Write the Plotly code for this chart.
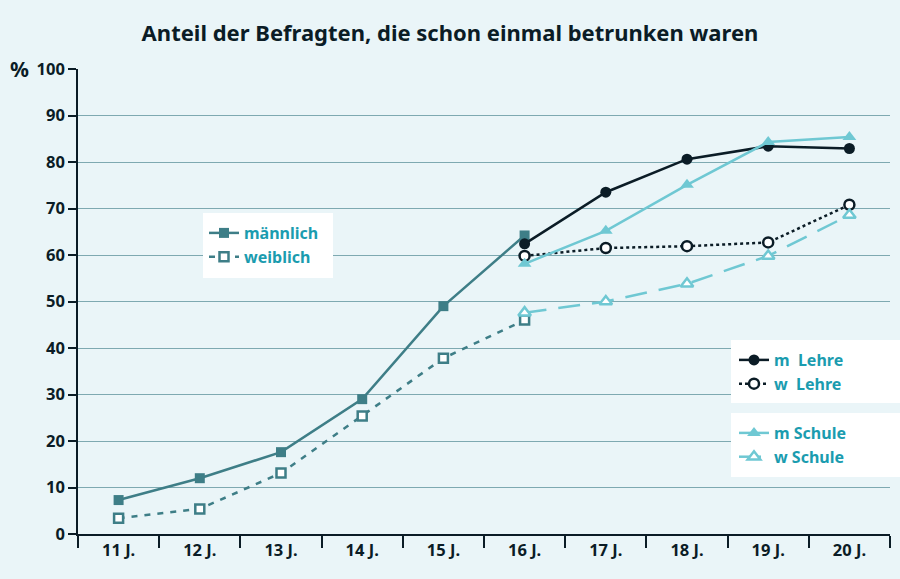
import plotly.graph_objects as go

categories = ["11 J.", "12 J.", "13 J.", "14 J.", "15 J.", "16 J.", "17 J.", "18 J.", "19 J.", "20 J."]
cat_early = categories[:6]
cat_late = categories[5:]

maennlich = [7.3, 12.0, 17.6, 29.0, 49.0, 64.2]
weiblich = [3.4, 5.4, 13.1, 25.4, 37.8, 46.0]
m_lehre = [62.4, 73.5, 80.6, 83.4, 82.9]
w_lehre = [59.8, 61.5, 61.9, 62.7, 70.8]
m_schule = [58.1, 65.2, 75.1, 84.3, 85.4]
w_schule = [47.6, 50.0, 53.8, 59.8, 68.6]

y_ticks = [0, 10, 20, 30, 40, 50, 60, 70, 80, 90, 100]

BG = "#eaf5f8"
DARK = "#0b1c26"
TEAL = "#3e7e87"
CYAN = "#6fc8d3"
TXT = "#1b9caf"
GRID = "#7ea9b1"

fig = go.Figure()

fig.add_trace(go.Scatter(x=cat_early, y=maennlich, name="männlich", mode="lines+markers",
                         line=dict(color=TEAL, width=2.5),
                         marker=dict(symbol="square", size=10, color=TEAL),
                         legend="legend"))
fig.add_trace(go.Scatter(x=cat_early, y=weiblich, name="weiblich", mode="lines+markers",
                         line=dict(color=TEAL, width=2.5, dash="6px,7px"),
                         marker=dict(symbol="square", size=9, color="white",
                                     line=dict(color=TEAL, width=2.5)),
                         legend="legend"))
fig.add_trace(go.Scatter(x=cat_late, y=m_lehre, name="m  Lehre", mode="lines+markers",
                         line=dict(color=DARK, width=2.5),
                         marker=dict(symbol="circle", size=11, color=DARK),
                         legend="legend2"))
fig.add_trace(go.Scatter(x=cat_late, y=w_lehre, name="w  Lehre", mode="lines+markers",
                         line=dict(color=DARK, width=2.5, dash="dot"),
                         marker=dict(symbol="circle", size=10, color="white",
                                     line=dict(color=DARK, width=2.5)),
                         legend="legend2"))
fig.add_trace(go.Scatter(x=cat_late, y=m_schule, name="m Schule", mode="lines+markers",
                         line=dict(color=CYAN, width=2.5),
                         marker=dict(symbol="triangle-up", size=12, color=CYAN),
                         legend="legend3"))
fig.add_trace(go.Scatter(x=cat_late, y=w_schule, name="w Schule", mode="lines+markers",
                         line=dict(color=CYAN, width=2.5, dash="22px,12px"),
                         marker=dict(symbol="triangle-up", size=11, color="white",
                                     line=dict(color=CYAN, width=2.5)),
                         legend="legend3"))

legend_font = dict(family="Noto Sans", size=16, color=TXT, weight="bold")

L, R, T, B = 78, 890, 69, 534

def box(x0, x1, y0, y1):
    return dict(type="rect", xref="paper", yref="paper", layer="above",
                x0=(x0 - L) / (R - L), x1=(x1 - L) / (R - L),
                y0=(B - y1) / (B - T), y1=(B - y0) / (B - T),
                fillcolor="white", line=dict(width=0))

fig.update_layout(
    width=900, height=579,
    paper_bgcolor=BG, plot_bgcolor=BG,
    margin=dict(l=L, r=900 - R, t=T, b=579 - B),
    title=dict(text="Anteil der Befragten, die schon einmal betrunken waren",
               x=0.5, xanchor="center", y=0.943, yanchor="middle",
               font=dict(family="Noto Sans", size=22, color=DARK, weight="bold")),
    xaxis=dict(type="category", categoryarray=categories, tickson="boundaries",
               ticks="outside", ticklen=12, tickcolor=DARK, tickwidth=1.5,
               showline=True, linecolor=DARK, linewidth=1.5, showgrid=False,
               range=[-0.5, 9.5],
               tickfont=dict(family="Noto Sans", size=16.5, color=DARK, weight="bold")),
    yaxis=dict(range=[0, 100], tickvals=y_ticks, ticks="outside", ticklen=8,
               tickcolor=DARK, tickwidth=1.5, showline=True, linecolor=DARK, linewidth=1.5,
               showgrid=True, gridcolor=GRID, gridwidth=1, zeroline=False,
               tickfont=dict(family="Noto Sans", size=16.5, color=DARK, weight="bold")),
    shapes=[box(203, 333, 213, 278), box(731, 900, 340, 403), box(731, 900, 413, 477)],
    legend=dict(x=(204 - L) / (R - L), y=(B - 216) / (B - T), xanchor="left", yanchor="top",
                bgcolor="rgba(0,0,0,0)", font=legend_font, itemwidth=30, tracegroupgap=0),
    legend2=dict(x=(734 - L) / (R - L), y=(B - 343) / (B - T), xanchor="left", yanchor="top",
                 bgcolor="rgba(0,0,0,0)", font=legend_font, itemwidth=30),
    legend3=dict(x=(734 - L) / (R - L), y=(B - 416) / (B - T), xanchor="left", yanchor="top",
                 bgcolor="rgba(0,0,0,0)", font=legend_font, itemwidth=30),
    annotations=[dict(text="%", xref="paper", yref="paper", x=(31 - L) / (R - L), y=1.0,
                      xanchor="right", yanchor="middle", showarrow=False,
                      font=dict(family="Noto Sans", size=21, color=DARK, weight="bold"))],
)

fig.write_html("out.html", config={"displayModeBar": False})
with open("out.html", encoding="utf-8") as f:
    html = f.read()
html = html.replace("<head>", "<head><style>html,body{margin:0;padding:0;overflow:hidden;}</style>", 1)
with open("out.html", "w", encoding="utf-8") as f:
    f.write(html)
